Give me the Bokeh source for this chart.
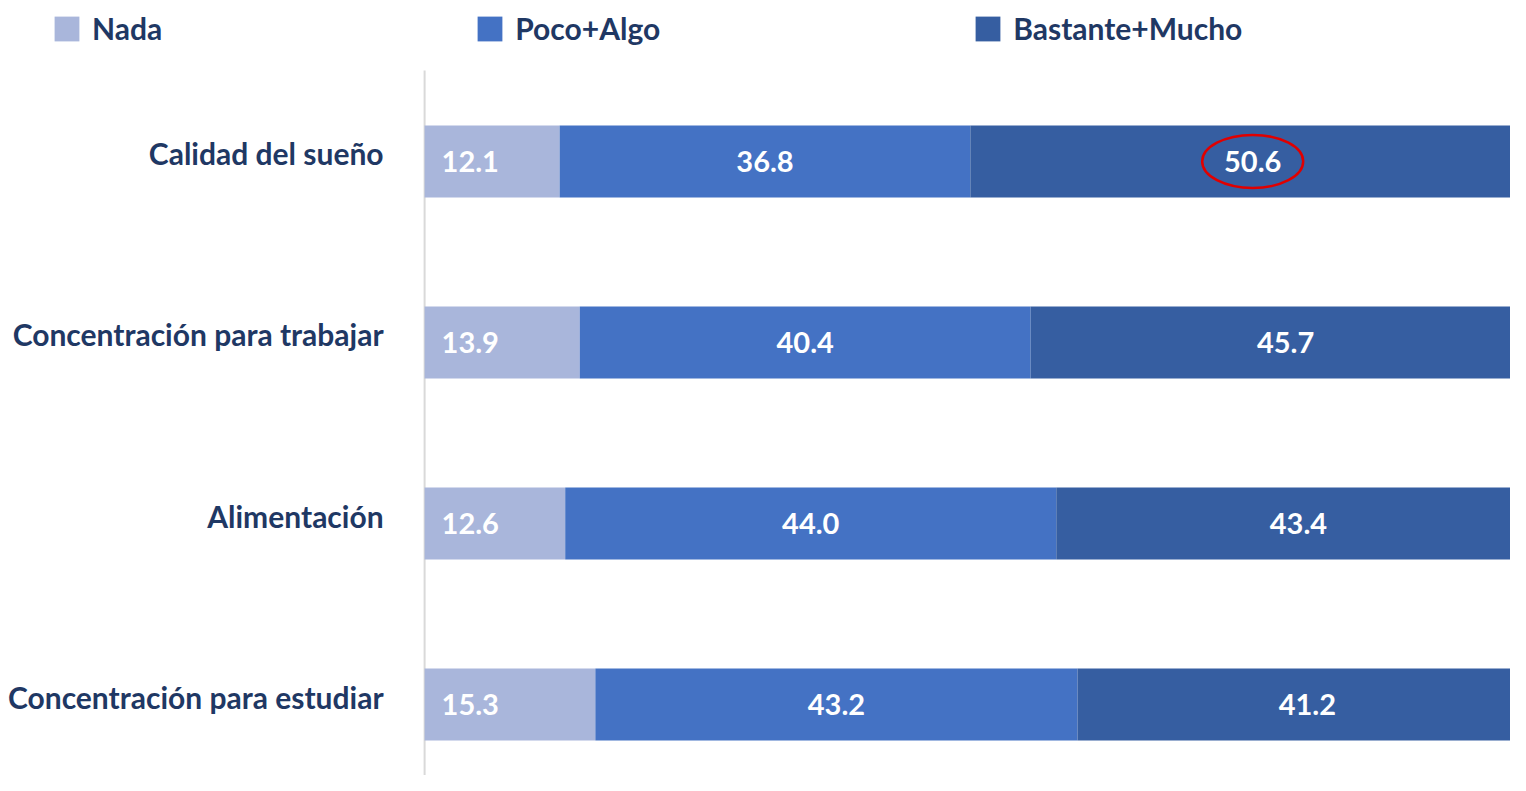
from bokeh.plotting import figure
from bokeh.models import ColumnDataSource, Range1d
from bokeh.core.properties import value
from bokeh.embed import file_html
from bokeh.resources import INLINE

categories = ["Calidad del sueño", "Concentración para trabajar", "Alimentación", "Concentración para estudiar"]
nada = [12.1, 13.9, 12.6, 15.3]
poco_algo = [36.8, 40.4, 44.0, 43.2]
bastante_mucho = [50.6, 45.7, 43.4, 41.2]
series_names = ["Nada", "Poco+Algo", "Bastante+Mucho"]
colors = ["#a9b6db", "#4472c4", "#365ea1"]

n = len(categories)
ypos = [n - 1 - i for i in range(n)]

src = ColumnDataSource(dict(
    y=ypos, cat=categories, nada=nada, poco=poco_algo, bast=bastante_mucho,
    nada_lbl=["%.1f" % v for v in nada],
    poco_lbl=["%.1f" % v for v in poco_algo],
    bast_lbl=["%.1f" % v for v in bastante_mucho],
    poco_mid=[a + b / 2 for a, b in zip(nada, poco_algo)],
    bast_mid=[a + b + c / 2 for a, b, c in zip(nada, poco_algo, bastante_mucho)],
    zero=[0] * n,
))

FONT = "Lato"
NAVY = "#1f3864"

p = figure(width=1510, height=775, output_backend="svg", toolbar_location=None,
           x_range=Range1d(-38.0, 97.3), y_range=Range1d(-0.392, 3.889),
           min_border=0)
p.outline_line_color = None
p.xgrid.visible = False
p.ygrid.visible = False
p.xaxis.visible = False
p.yaxis.visible = False

# vertical axis line at zero
p.segment(x0=[0], y0=[p.y_range.start], x1=[0], y1=[3.503], line_color="#d9d9d9", line_width=2)

p.hbar_stack(["nada", "poco", "bast"], y="y", height=0.398, color=colors, line_color=None,
             source=src, legend_label=series_names)

# category labels
p.text(x="zero", y="y", text="cat", source=src, x_offset=-41, y_offset=-8,
       text_align="right", text_baseline="middle", text_color=NAVY,
       text_font=value(FONT), text_font_style="bold", text_font_size="30px")

# value labels
lbl_kw = dict(text_baseline="middle", text_color="white", text_font=value(FONT),
              text_font_style="bold", text_font_size="29px", source=src)
p.text(x="zero", y="y", text="nada_lbl", x_offset=17, text_align="left", **lbl_kw)
p.text(x="poco_mid", y="y", text="poco_lbl", text_align="center", **lbl_kw)
p.text(x="bast_mid", y="y", text="bast_lbl", text_align="center", **lbl_kw)

# highlight the largest Bastante+Mucho value
imax = max(range(n), key=lambda i: bastante_mucho[i])
hl = ColumnDataSource(dict(x=[src.data["bast_mid"][imax]], y=[ypos[imax]]))
p.ellipse(x="x", y="y", width=101, height=53, width_units="screen", height_units="screen",
          source=hl, fill_alpha=0, line_color="#e00000", line_width=2.5)

lg = p.legend[0]
lg.orientation = "horizontal"
lg.location = (51, 729)
lg.glyph_width = 31
lg.glyph_height = 31
lg.label_standoff = 10
lg.spacing = 312
lg.padding = 0
lg.margin = 0
lg.border_line_color = None
lg.background_fill_alpha = 0
lg.label_text_font = FONT
lg.label_text_font_style = "bold"
lg.label_text_font_size = "30px"
lg.label_text_color = NAVY
lg.label_height = 25

open("out.html", "w").write(file_html(p, INLINE))
